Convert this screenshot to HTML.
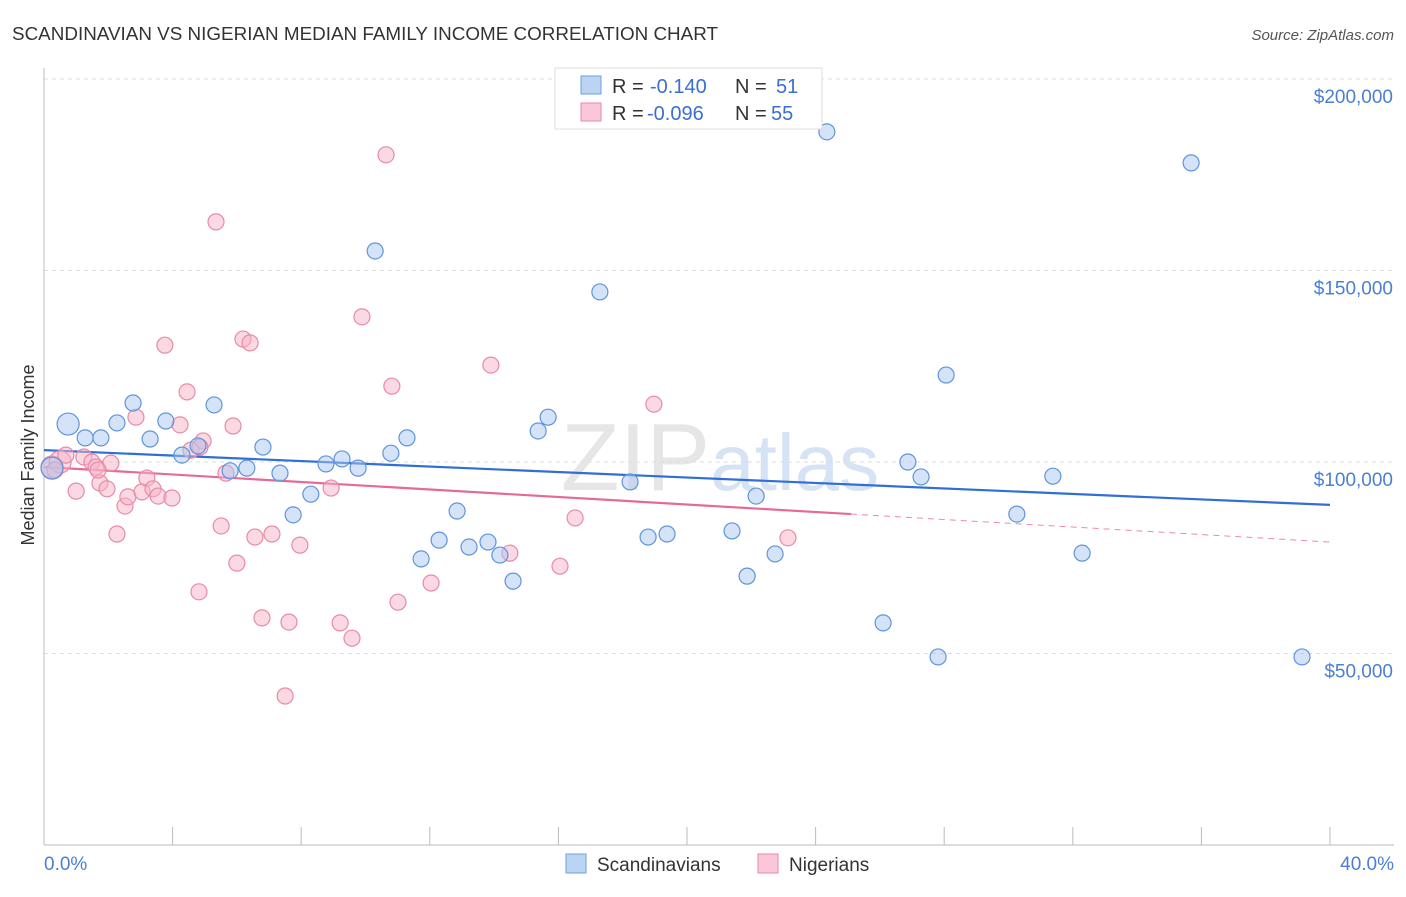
<!DOCTYPE html>
<html><head><meta charset="utf-8"><style>
body{margin:0;background:#fff;font-family:"Liberation Sans",sans-serif}
svg text{font-family:"Liberation Sans",sans-serif}
</style></head><body>
<svg width="1406" height="892" viewBox="0 0 1406 892" id="chart">
<text x="12" y="40" font-size="18" fill="#333" textLength="706" lengthAdjust="spacingAndGlyphs">SCANDINAVIAN VS NIGERIAN MEDIAN FAMILY INCOME CORRELATION CHART</text>
<text x="1394" y="40" font-size="15" fill="#555" text-anchor="end" font-style="italic">Source: ZipAtlas.com</text>
<text x="720" y="490" font-size="96" fill="#e6e6e6" text-anchor="middle" font-family="Liberation Serif">ZIP<tspan fill="#d5e3f5" font-family="Liberation Sans" font-size="80">atlas</tspan></text>
<g id="grid"></g>
<g id="axes"></g>
<g id="trends"></g>
<g id="pts"></g>
<text x="34" y="455" font-size="18" fill="#333" text-anchor="middle" transform="rotate(-90 34 455)">Median Family Income</text>
<text x="44" y="870" font-size="19" fill="#4a7fd4">0.0%</text>
<text x="1394" y="870" font-size="19" fill="#4a7fd4" text-anchor="end">40.0%</text>
<g>
<rect x="555" y="68" width="267" height="61" fill="#fff" stroke="#ddd"/>
<rect x="581" y="76" width="20" height="18" fill="#bcd4f4" stroke="#6a9fe0"/>
<rect x="581" y="103" width="20" height="18" fill="#fac7d6" stroke="#e88aa8"/>
<text x="612" y="93" font-size="20" fill="#333">R =</text>
<text x="650" y="93" font-size="20" fill="#3a6fd0">-0.140</text>
<text x="735" y="93" font-size="20" fill="#333">N =</text>
<text x="776" y="93" font-size="20" fill="#3a6fd0">51</text>
<text x="612" y="120" font-size="20" fill="#333">R =</text>
<text x="647" y="120" font-size="20" fill="#3a6fd0">-0.096</text>
<text x="735" y="120" font-size="20" fill="#333">N =</text>
<text x="771" y="120" font-size="20" fill="#3a6fd0">55</text>
</g>
<g>
<rect x="566" y="854" width="20" height="19" fill="#bcd4f4" stroke="#6a9fe0"/>
<text x="597" y="871" font-size="19" fill="#333">Scandinavians</text>
<rect x="758" y="854" width="20" height="19" fill="#fac7d6" stroke="#e88aa8"/>
<text x="789" y="871" font-size="19" fill="#333">Nigerians</text>
</g>
</svg>
<script>
const yTicks=[50,100,150,200];
const yTickLabels=["$50,000","$100,000","$150,000","$200,000"];
const xTicks=[0,4,8,12,16,20,24,28,32,36,40];
const blueX=[0.25,0.75,1.28,1.77,2.27,2.77,3.30,3.79,4.29,4.79,5.29,5.79,6.31,6.81,7.34,7.75,8.30,8.77,9.27,9.77,10.30,10.79,11.29,11.73,12.29,12.85,13.22,13.81,14.18,14.59,15.37,15.68,17.29,18.23,18.79,19.38,21.40,21.87,22.15,22.74,24.35,26.10,26.87,27.28,27.81,28.06,30.26,31.38,32.29,35.68,39.13];
const blueY=[98.4,109.9,106.3,106.3,110.2,115.4,106.0,110.7,101.8,104.2,114.9,97.7,98.4,103.9,97.1,86.2,91.6,99.5,100.8,98.4,155.1,102.3,106.3,74.7,79.6,87.2,77.8,79.1,75.7,68.9,108.1,111.7,144.4,94.8,80.4,81.2,82.0,70.2,91.1,76.0,186.2,58.0,100.0,96.1,49.1,122.7,86.4,96.3,76.2,178.1,49.1];
const pinkX=[0.25,0.50,0.68,1.00,1.24,1.49,1.62,1.74,1.96,2.08,2.27,2.52,2.61,2.86,3.05,3.20,3.39,3.55,3.76,3.98,4.23,4.45,4.57,4.82,4.95,5.35,5.51,5.66,5.88,6.00,6.19,6.41,6.56,6.78,7.09,7.50,7.62,7.96,8.93,9.21,9.58,9.89,10.64,10.82,11.01,12.04,13.90,14.49,16.05,16.52,18.97,23.14,0.34,1.68,4.85];
const pinkY=[98.7,100,101.8,92.4,101.3,100,98.7,94.5,93.0,99.7,81.2,88.5,90.9,111.7,92.2,95.8,93.0,91.1,130.5,90.6,109.7,118.3,103.1,66.1,105.5,162.7,83.3,97.1,109.4,73.6,132.1,131.1,80.4,59.3,81.2,38.9,58.2,78.3,93.2,58.0,54.0,137.9,180.2,119.8,63.4,68.4,125.3,76.2,72.8,85.4,115.1,80.2,97.9,97.9,103.9];
const blueTrend=[103.1,88.8];
const pinkTrend=[98.7,79.1];
const pinkSolidEnd=25.1;
const NS="http://www.w3.org/2000/svg";
const X=v=>44+v/40*1286;
const Y=v=>845-v*(845-462)/100;
function mk(t,a,p){const e=document.createElementNS(NS,t);for(const k in a)e.setAttribute(k,a[k]);document.getElementById(p).appendChild(e);return e;}
yTicks.forEach((t,i)=>{
 const l=mk('line',{x1:44,x2:1394,y1:Y(t),y2:Y(t),stroke:'#ddd','stroke-dasharray':'4,4'},'grid');
 
 
 const tx=mk('text',{x:1393,y:Y(t)+24,'font-size':19,fill:'#4a7fd4','text-anchor':'end'},'grid');
 tx.textContent=yTickLabels[i];
 
 
});
mk('line',{x1:44,x2:44,y1:68,y2:845,stroke:'#bbb'},'axes');
mk('line',{x1:44,x2:1394,y1:845,y2:845,stroke:'#bbb'},'axes');
xTicks.forEach(t=>{const l=mk('line',{x1:X(t),x2:X(t),y1:827,y2:845,stroke:'#bbb'},'axes');
 
 });
const b=mk('line',{x1:X(0),y1:Y(blueTrend[0]),x2:X(40),y2:Y(blueTrend[1]),stroke:'#2f6fd6','stroke-width':2.2},'trends');


const pAt=v=>pinkTrend[0]+(pinkTrend[1]-pinkTrend[0])*v/40;
const p1=mk('line',{x1:X(0),y1:Y(pinkTrend[0]),x2:X(pinkSolidEnd),y2:Y(pAt(pinkSolidEnd)),stroke:'#e56a96','stroke-width':2.2},'trends');


const p2=mk('line',{x1:X(pinkSolidEnd),y1:Y(pAt(pinkSolidEnd)),x2:X(40),y2:Y(pinkTrend[1]),stroke:'#e98aaa','stroke-width':1,'stroke-dasharray':'6,5'},'trends');


function dots(xs,ys,fill,stroke,name){xs.forEach((x,i)=>{
 const c=mk('circle',{cx:X(x),cy:Y(ys[i]),r:i<2?11:8,fill:fill,'fill-opacity':0.5,stroke:stroke,'stroke-width':1.2},'pts');
 
 });}
dots(pinkX,pinkY,'#f5b3c8','#e88aa8','nigerian-point');
dots(blueX,blueY,'#a9c8f0','#5f94dc','scandinavian-point');
</script>
</body></html>
